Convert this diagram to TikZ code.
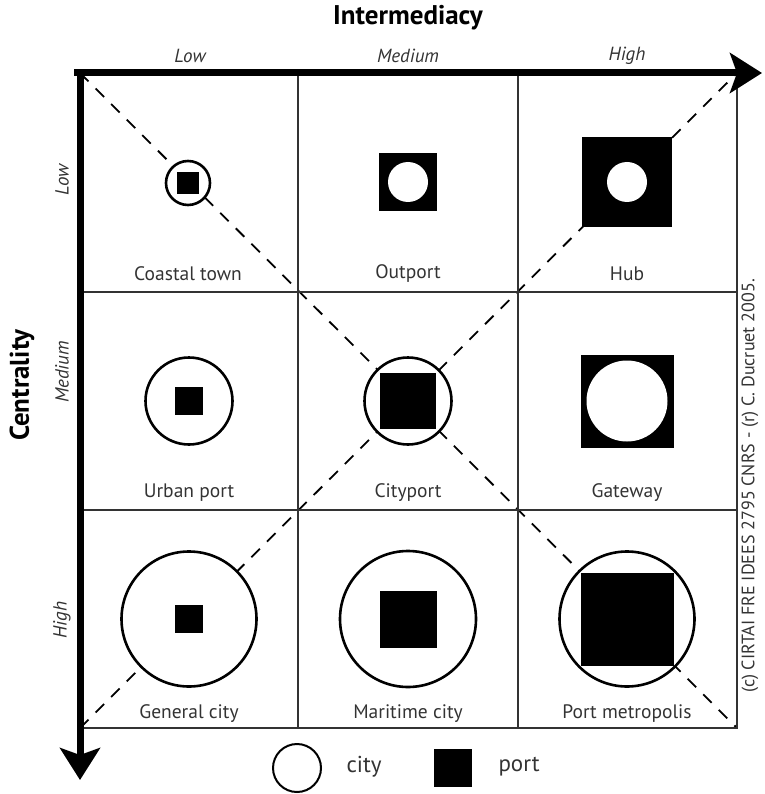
\documentclass[tikz,border=0pt]{standalone}
\usepackage{fontspec}
\setmainfont{PT Sans}
\usepackage{tikz}
\usetikzlibrary{arrows.meta}

\definecolor{labelgray}{gray}{0.2}

\begin{document}
\begin{tikzpicture}[x=1pt, y=-1pt, % pixel-like units, y going down
	grid/.style={line width=1.6pt, draw=black!80},
	axis/.style={line width=7pt, -{Stealth[length=32pt,width=40pt,inset=7pt]}},
	diag/.style={line width=1.8pt, dash pattern=on 12pt off 10pt},
	city/.style={circle, draw, line width=2.6pt, fill=white, inner sep=0, outer sep=0},
	hole/.style={circle, fill=white, inner sep=0, outer sep=0},
	port/.style={rectangle, fill=black, inner sep=0, outer sep=0},
	type/.style={text=labelgray, font=\fontsize{19.5}{22}\selectfont},
	level/.style={text=labelgray, font=\itshape\fontsize{19}{21}\selectfont},
	title/.style={font=\bfseries\fontsize{27}{30}\selectfont}]
	\useasboundingbox (0,0) rectangle (764,794);

	% grid corners
	\coordinate (tl) at (80,73);
	\coordinate (tr) at (737,73);
	\coordinate (bl) at (80,728);
	\coordinate (br) at (737,728);

	% dashed diagonals
	\draw[diag] (tl)--(br);
	\draw[diag] (bl)--(tr);

	% cells
	\draw[grid] (298,73)--(298,728);
	\draw[grid] (518,73)--(518,728);
	\draw[grid] (80,292)--(737,292);
	\draw[grid] (80,510)--(737,510);
	\draw[grid] (tr)--(br)--(bl);

	% axes
	\draw[axis] (74,73)--(762,73);
	\draw[axis] (80,70)--(80,780);

	% axis titles and levels
	\node[title] (tInter) at (408,18) {Intermediacy};
	\node[title, rotate=90] (tCentr) at (22,385) {Centrality};
	\node[level] (cLow) at (190,56) {Low};
	\node[level] (cMed) at (408,56) {Medium};
	\node[level] (cHigh) at (627,56) {High};
	\node[level, rotate=90] (rLow) at (62,180) {Low};
	\node[level, rotate=90] (rMed) at (62,372) {Medium};
	\node[level, rotate=90] (rHigh) at (62,620) {High};

	% row 1
	\node[city, minimum size=44pt] (cCoastal) at (188,183) {};
	\node[port, minimum size=22pt] (pCoastal) at (188,183) {};
	\node[port, minimum size=58pt] (pOutport) at (408,182) {};
	\node[hole, minimum size=40pt] (cOutport) at (408,182) {};
	\node[port, minimum size=90pt] (pHub) at (627,182) {};
	\node[hole, minimum size=40pt] (cHub) at (627,182) {};

	% row 2
	\node[city, minimum size=87pt] (cUrban) at (189,401) {};
	\node[port, minimum size=28pt] (pUrban) at (189,401) {};
	\node[city, minimum size=87pt] (cCityport) at (408,401) {};
	\node[port, minimum size=56pt] (pCityport) at (408,401) {};
	\node[port, minimum size=93pt] (pGateway) at (627,401) {};
	\node[hole, minimum size=81pt] (cGateway) at (627,401) {};

	% row 3
	\node[city, minimum size=135pt] (cGeneral) at (189,619) {};
	\node[port, minimum size=28pt] (pGeneral) at (189,619) {};
	\node[city, minimum size=136pt] (cMaritime) at (408,619) {};
	\node[port, minimum size=57pt] (pMaritime) at (408,619) {};
	\node[city, minimum size=135pt] (cMetro) at (627,619) {};
	\node[port, minimum size=93pt] (pMetro) at (627,619) {};

	% type names
	\node[type] (lCoastal) at (188,274) {Coastal town};
	\node[type] (lOutport) at (408,274) {Outport};
	\node[type] (lHub) at (627,274) {Hub};
	\node[type] (lUrban) at (189,493) {Urban port};
	\node[type] (lCityport) at (408,493) {Cityport};
	\node[type] (lGateway) at (627,493) {Gateway};
	\node[type] (lGeneral) at (189,714) {General city};
	\node[type] (lMaritime) at (408,714) {Maritime city};
	\node[type] (lMetro) at (627,714) {Port metropolis};

	% credit
	\node[type, rotate=90, font=\fontsize{18}{20}\selectfont] (credit) at (750,486)
		{(c) CIRTAI FRE IDEES 2795 CNRS - (r) C. Ducruet 2005.};

	% legend
	\node[city, line width=2pt, minimum size=48pt] (kCity) at (297,768) {};
	\node[type, anchor=west, font=\fontsize{23}{25}\selectfont] (kCityTxt) at (343,767) {city};
	\node[port, minimum size=38pt] (kPort) at (453,768) {};
	\node[type, anchor=west, font=\fontsize{23}{25}\selectfont] (kPortTxt) at (495,767) {port};

\end{tikzpicture}
\end{document}
